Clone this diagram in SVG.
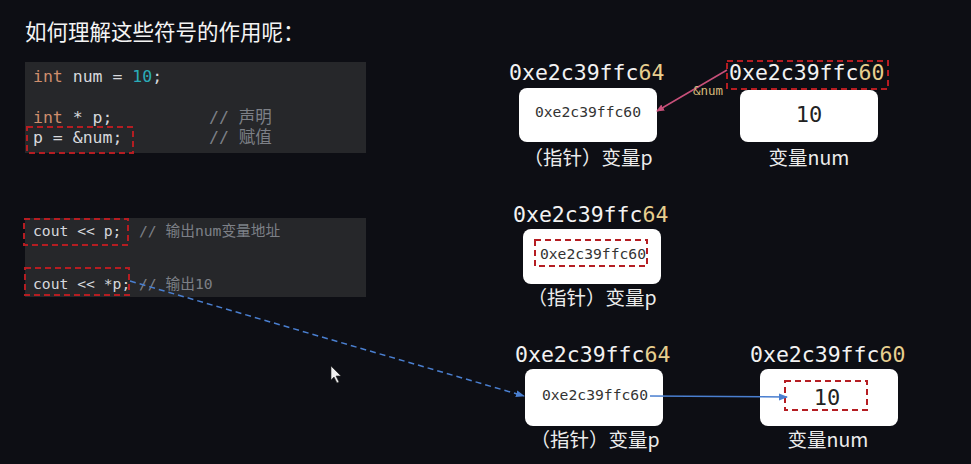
<svg xmlns="http://www.w3.org/2000/svg" width="971" height="464" viewBox="0 0 971 464">
<defs>
<style>
.mono{font-family:"DejaVu Sans Mono","Liberation Mono","Noto Sans CJK SC",monospace}
.cjk{font-family:"Noto Sans CJK SC","Noto Sans",sans-serif}
.code{font-size:14.7px;fill:#d6d8dc}
.code1{font-size:16.5px}
.kw{fill:#cf8e6d}
.numc{fill:#2aacb8}
.cmt{fill:#7d8087}
.addr{font-size:21.5px;fill:#f2f2f2}
.hi{fill:#e7cf8f}
.box{fill:#ffffff}
.inner{font-size:14.7px;fill:#333}
.lbl{font-size:19.5px;fill:#ececec}
.red{fill:none;stroke:#b51d22;stroke-width:2;stroke-dasharray:6 4}
.codebg{fill:#26272a}
</style>
<marker id="ap" markerWidth="8" markerHeight="8" refX="7" refY="4" orient="auto" markerUnits="userSpaceOnUse"><path d="M0,0.5 L8,4 L0,7.5 z" fill="#c8507a"/></marker>
<marker id="ab" markerWidth="9" markerHeight="8" refX="8" refY="4" orient="auto" markerUnits="userSpaceOnUse"><path d="M0,0.5 L9,4 L0,7.5 z" fill="#4a7fd0"/></marker>
</defs>
<rect width="971" height="464" fill="#0d0e14"/>
<text x="25" y="40" class="cjk" font-size="21.5" fill="#f4f4f4">如何理解这些符号的作用呢：</text>

<g id="code1">
<rect class="codebg" x="25" y="62" width="341" height="91"/>
<text x="33" y="82" class="mono code code1"><tspan class="kw">int</tspan> num = <tspan class="numc">10</tspan>;</text>
<text x="33" y="123" class="mono code code1"><tspan class="kw">int</tspan> * p;</text>
<text x="209" y="123" class="mono code code1 cmt">// 声明</text>
<text x="33" y="143" class="mono code code1">p = &amp;num;</text>
<text x="209" y="143" class="mono code code1 cmt">// 赋值</text>
<rect class="red" x="27" y="127" width="106" height="26"/>
</g>

<g id="code2">
<rect class="codebg" x="25" y="218" width="341" height="79"/>
<text x="33" y="236" class="mono code">cout &lt;&lt; p;</text>
<text x="139" y="236" class="mono code cmt">// 输出num变量地址</text>
<text x="33" y="289" class="mono code">cout &lt;&lt; *p;</text>
<text x="139" y="289" class="mono code cmt">// 输出10</text>
<rect class="red" x="24" y="219" width="104" height="26"/>
<rect class="red" x="25" y="268" width="104" height="27"/>
</g>

<g id="p1">
<text x="509" y="80" class="mono addr">0xe2c39ffc<tspan class="hi">64</tspan></text>
<rect class="box" x="519" y="88" width="138" height="54" rx="8"/>
<text x="588" y="117" text-anchor="middle" class="mono inner">0xe2c39ffc60</text>
<text x="588" y="165" text-anchor="middle" class="cjk lbl">（指针）变量p</text>
</g>

<g id="num1">
<text x="729" y="80" class="mono addr">0xe2c39ffc<tspan class="hi">60</tspan></text>
<rect class="red" x="727" y="61" width="161" height="28"/>
<rect class="box" x="740" y="90" width="138" height="52" rx="8"/>
<text x="809" y="122" text-anchor="middle" class="mono" font-size="22" fill="#222">10</text>
<text x="809" y="165" text-anchor="middle" class="cjk lbl">变量num</text>
</g>

<g id="p2">
<text x="513" y="222" class="mono addr">0xe2c39ffc<tspan class="hi">64</tspan></text>
<rect class="box" x="523" y="229" width="138" height="55" rx="8"/>
<rect class="red" x="535" y="240" width="112" height="26"/>
<text x="593" y="259" text-anchor="middle" class="mono inner">0xe2c39ffc60</text>
<text x="592" y="305" text-anchor="middle" class="cjk lbl">（指针）变量p</text>
</g>

<g id="p3">
<text x="515" y="362" class="mono addr">0xe2c39ffc<tspan class="hi">64</tspan></text>
<rect class="box" x="525" y="369" width="138" height="57" rx="8"/>
<text x="595" y="400" text-anchor="middle" class="mono inner">0xe2c39ffc60</text>
<text x="595" y="447" text-anchor="middle" class="cjk lbl">（指针）变量p</text>
</g>

<g id="num3">
<text x="750" y="362" class="mono addr">0xe2c39ffc<tspan class="hi">60</tspan></text>
<rect class="box" x="760" y="369" width="138" height="57" rx="8"/>
<rect class="red" x="785" y="381" width="82" height="29"/>
<text x="827" y="405" text-anchor="middle" class="mono" font-size="22" fill="#222">10</text>
<text x="828" y="447" text-anchor="middle" class="cjk lbl">变量num</text>
</g>

<g id="connectors">
<line x1="727" y1="70" x2="657" y2="111" stroke="#c8507a" stroke-width="1.5" marker-end="url(#ap)"/>
<text x="693" y="95" class="mono" font-size="12.5" fill="#d6b97a">&amp;num</text>
<line x1="650" y1="396" x2="787" y2="397" stroke="#4a7fd0" stroke-width="1.5" marker-end="url(#ab)"/>
<line x1="130" y1="281" x2="524" y2="396" stroke="#4a7fd0" stroke-width="1.5" stroke-dasharray="6 4" marker-end="url(#ab)"/>
</g>

<path d="M331,366 L331,380 L334,377 L337,383 L339,382 L336,376 L341,376 Z" fill="#f0f0f0" stroke="#222" stroke-width="0.6"/>
</svg>
